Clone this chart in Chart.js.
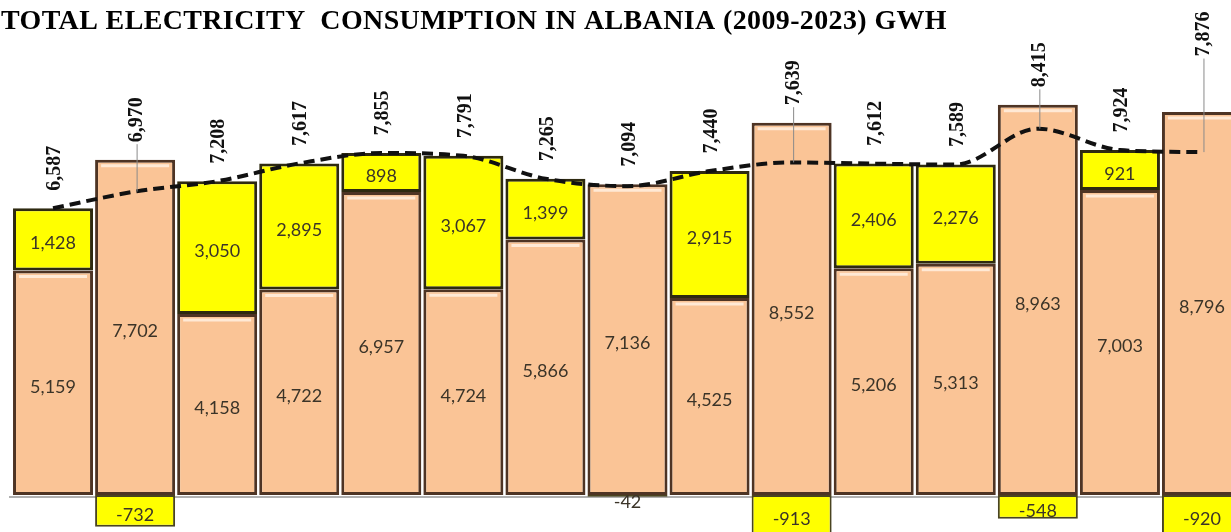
<!DOCTYPE html>
<html>
<head>
<meta charset="utf-8">
<script src="https://cdn.jsdelivr.net/npm/chart.js@4.4.1/dist/chart.umd.min.js"></script>
<style>
  html, body { margin: 0; padding: 0; background: #fff; overflow: hidden; }
  #wrap { position: absolute; left: 0; top: 0; width: 1243px; height: 532px; }
</style>
</head>
<body>
<div id="wrap"><canvas id="chart"></canvas></div>
<script>
const years = ["2009", "2010", "2011", "2012", "2013", "2014", "2015", "2016",
  "2017", "2018", "2019", "2020", "2021", "2022", "2023"];
const production = [5159, 7702, 4158, 4722, 6957, 4724, 5866, 7136, 4525, 8552, 5206, 5313, 8963, 7003, 8796];
const netImport = [1428, null, 3050, 2895, 898, 3067, 1399, null, 2915, null, 2406, 2276, null, 921, null];
const netExport = [null, -732, null, null, null, null, null, -42, null, -913, null, null, -548, null, -920];
const consumption = [6587, 6970, 7208, 7617, 7855, 7791, 7265, 7094, 7440, 7639, 7612, 7589, 8415, 7924, 7876];

const titleText = "TOTAL ELECTRICITY  CONSUMPTION IN ALBANIA (2009-2023) GWH";
const fmt = (v) => v.toLocaleString("en-US");

const peach = "#fac496";
const yellow = "#ffff00";
const edge = "#4e3424";

const barLabels = {
  id: "barLabels",
  beforeDatasetsDraw(chart) {
    const { ctx, chartArea } = chart;
    const y0 = chart.scales.y.getPixelForValue(0);
    ctx.save();
    ctx.strokeStyle = "#b0b0b0";
    ctx.lineWidth = 2;
    ctx.beginPath();
    ctx.moveTo(chartArea.left - 3, y0 + 2);
    ctx.lineTo(chartArea.right, y0 + 2);
    ctx.stroke();
    ctx.restore();
  },
  afterDatasetsDraw(chart, args, opts) {
    const { ctx } = chart;
    const yScale = chart.scales.y;
    ctx.save();

    // soft highlight under the top edge of the peach bars
    chart.getDatasetMeta(0).data.forEach((bar) => {
      const half = bar.width / 2;
      ctx.strokeStyle = "rgba(255,240,225,0.85)";
      ctx.lineWidth = 3;
      ctx.beginPath();
      ctx.moveTo(bar.x - half + 6, bar.y + 6);
      ctx.lineTo(bar.x + half - 6, bar.y + 6);
      ctx.stroke();
    });

    // values inside the segments
    ctx.font = "18px Lato";
    ctx.fillStyle = "#3b3428";
    ctx.textAlign = "center";
    ctx.textBaseline = "middle";
    [0, 1, 2].forEach((di) => {
      const meta = chart.getDatasetMeta(di);
      meta.data.forEach((bar, i) => {
        const v = chart.data.datasets[di].data[i];
        if (v == null) return;
        const top = Math.min(bar.y, bar.base);
        const bottom = Math.max(bar.y, bar.base);
        let cy = (top + bottom) / 2 + 4;
        if (bottom - top < 14) cy = bottom + 5;
        ctx.fillText(fmt(v), bar.x, cy);
      });
    });

    // rotated totals above the bars
    ctx.font = 'bold 20px "Liberation Serif"';
    ctx.fillStyle = "#111";
    const line = chart.getDatasetMeta(3);
    line.data.forEach((pt, i) => {
      const stackTop = yScale.getPixelForValue(production[i] + (netImport[i] || 0));
      const top = Math.min(pt.y, stackTop);
      const cy = top - 40 - (opts.extraLift[i] || 0);
      const txt = fmt(consumption[i]);
      const half = ctx.measureText(txt).width / 2;
      ctx.save();
      ctx.translate(pt.x + 2, cy);
      ctx.rotate(-Math.PI / 2);
      ctx.fillText(txt, 0, 0);
      ctx.restore();
      if (stackTop < pt.y - 4) {
        ctx.strokeStyle = "#8a8a8a";
        ctx.lineWidth = 1;
        ctx.beginPath();
        ctx.moveTo(pt.x + 2, cy + half + 2);
        ctx.lineTo(pt.x + 2, pt.y);
        ctx.stroke();
      }
    });
    ctx.restore();
  },
  afterDraw(chart) {
    const { ctx } = chart;
    ctx.save();
    ctx.font = 'bold 28px "Liberation Serif"';
    ctx.letterSpacing = "0.4px";
    ctx.fillStyle = "#000";
    ctx.textAlign = "left";
    ctx.textBaseline = "alphabetic";
    ctx.fillText(titleText, 1, 29, 946);
    ctx.restore();
  },
};

new Chart(document.getElementById("chart"), {
  type: "bar",
  data: {
    labels: years,
    datasets: [
      {
        label: "Production",
        data: production,
        backgroundColor: peach,
        borderColor: edge,
        borderWidth: 3,
        borderSkipped: false,
        stack: "energy",
        order: 2,
      },
      {
        label: "Import",
        data: netImport,
        backgroundColor: yellow,
        borderColor: "#2e2a10",
        borderWidth: 3,
        borderSkipped: false,
        stack: "energy",
        order: 2,
      },
      {
        label: "Export",
        data: netExport,
        backgroundColor: yellow,
        borderColor: "#4a4420",
        borderWidth: 2,
        borderSkipped: false,
        stack: "energy",
        order: 2,
      },
      {
        type: "line",
        label: "Consumption",
        data: consumption,
        borderColor: "#111",
        borderWidth: 4,
        borderDash: [11, 6],
        pointRadius: 0,
        cubicInterpolationMode: "monotone",
        fill: false,
        stack: "total",
        order: 0,
      },
    ],
  },
  options: {
    responsive: true,
    maintainAspectRatio: false,
    animation: false,
    layout: { padding: { left: 12, right: 0, top: 0, bottom: 0 } },
    datasets: { bar: { barPercentage: 0.975, categoryPercentage: 1 } },
    scales: {
      x: { display: false, stacked: true },
      y: { display: false, stacked: true, min: -850, max: 11370 },
    },
    plugins: {
      legend: { display: false },
      tooltip: { enabled: false },
      barLabels: { extraLift: { 14: 38 } },
    },
  },
  plugins: [barLabels],
});
</script>
</body>
</html>
